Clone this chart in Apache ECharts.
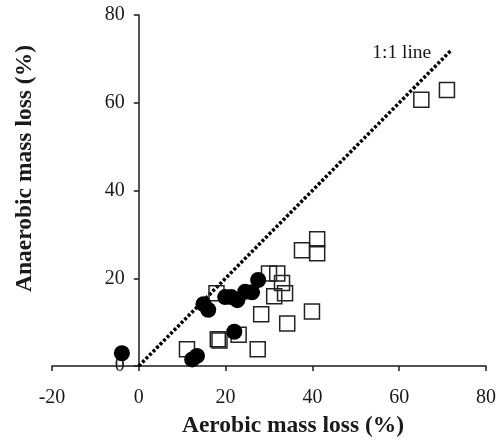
<!DOCTYPE html>
<html>
<head>
<meta charset="utf-8">
<script src="https://cdn.jsdelivr.net/npm/echarts@6/dist/echarts.min.js"></script>
<style>
  html, body { margin: 0; padding: 0; background: #fff; }
  #chart { width: 500px; height: 446px; }
</style>
</head>
<body>
<div id="chart"></div>
<script>
// open squares: aerobic vs anaerobic mass loss (%)
const squareAerobic   = [11.1, 18.2, 18.6, 23.0, 27.4, 28.2, 17.9, 30.0, 31.9, 33.0, 31.2, 33.7, 34.2, 37.6, 41.1, 41.1, 39.9, 65.1, 71.0];
const squareAnaerobic = [3.8, 6.1, 5.8, 7.1, 3.8, 11.8, 16.6, 21.1, 21.1, 18.9, 15.9, 16.6, 9.7, 26.4, 28.9, 25.7, 12.4, 60.7, 62.9];

// filled circles
const circleAerobic   = [-3.9, 12.3, 13.4, 14.9, 16.0, 19.9, 21.3, 22.7, 24.5, 26.1, 27.5, 22.0];
const circleAnaerobic = [2.9, 1.5, 2.3, 14.1, 12.8, 15.7, 15.7, 15.0, 16.9, 16.8, 19.6, 7.8];

// 1:1 reference line end points
const oneToOneLine = [[0, 0], [72, 72]];

const xTicks = { min: -20, max: 80, interval: 20 };
const yTicks = { min: 0, max: 80, interval: 20 };

const serif = '"Liberation Serif", "Times New Roman", serif';
const ink = '#1a1a1a';

const gridLeft = 52, gridRight = 14;
const plotWidth = 500 - gridLeft - gridRight;
// y axis sits at x = 0, so shift it right from the grid's left edge
const yAxisShift = plotWidth * (0 - xTicks.min) / (xTicks.max - xTicks.min);

const zip = (xs, ys) => xs.map((x, i) => [x, ys[i]]);

const chart = echarts.init(document.getElementById('chart'));

const option = {
    backgroundColor: '#fff',
    animation: false,
    grid: { left: gridLeft, right: gridRight, top: 15, bottom: 80, containLabel: false, outerBoundsMode: 'none' },
    xAxis: {
        type: 'value',
        min: xTicks.min,
        max: xTicks.max,
        interval: xTicks.interval,
        name: 'Aerobic mass loss (%)',
        nameLocation: 'middle',
        nameGap: 48,
        nameTextStyle: {
            fontFamily: serif, fontSize: 23.5, fontWeight: 'bold', color: ink,
            padding: [0, 0, 0, 48]
        },
        axisLine: { onZero: false, lineStyle: { color: ink, width: 1.5 } },
        axisTick: { length: 5, lineStyle: { color: ink, width: 1.5 } },
        axisLabel: { margin: 22, fontFamily: serif, fontSize: 20, color: ink },
        splitLine: { show: false }
    },
    yAxis: {
        type: 'value',
        min: yTicks.min,
        max: yTicks.max,
        interval: yTicks.interval,
        offset: -yAxisShift,
        name: 'Anaerobic mass loss (%)',
        nameLocation: 'middle',
        nameGap: 102,
        nameTextStyle: {
            fontFamily: serif, fontSize: 23.5, fontWeight: 'bold', color: ink,
            padding: [0, 0, 0, 44]
        },
        axisLine: { onZero: false, lineStyle: { color: ink, width: 1.5 } },
        axisTick: { length: 5, lineStyle: { color: ink, width: 1.5 } },
        axisLabel: { margin: 14, fontFamily: serif, fontSize: 20, color: ink },
        splitLine: { show: false }
    },
    series: [
        {
            type: 'line',
            data: oneToOneLine,
            symbol: 'none',
            lineStyle: { color: '#000', width: 3.5, type: [3, 2] },
            z: 1,
            markPoint: {
                symbol: 'circle',
                symbolSize: 0,
                data: [{ coord: oneToOneLine[1] }],
                label: {
                    show: true,
                    position: 'left',
                    distance: 20,
                    offset: [0, 3],
                    formatter: '1:1 line',
                    fontFamily: serif,
                    fontSize: 19.5,
                    color: ink
                }
            }
        },
        {
            type: 'scatter',
            data: zip(squareAerobic, squareAnaerobic),
            symbol: 'rect',
            symbolSize: 15,
            itemStyle: { color: 'rgba(0,0,0,0)', borderColor: '#222', borderWidth: 1.5, opacity: 1 },
            z: 2
        },
        {
            type: 'scatter',
            data: zip(circleAerobic, circleAnaerobic),
            symbol: 'circle',
            symbolSize: 16,
            itemStyle: { color: '#000', opacity: 1 },
            z: 3
        }
    ]
};

chart.setOption(option);
</script>
</body>
</html>
